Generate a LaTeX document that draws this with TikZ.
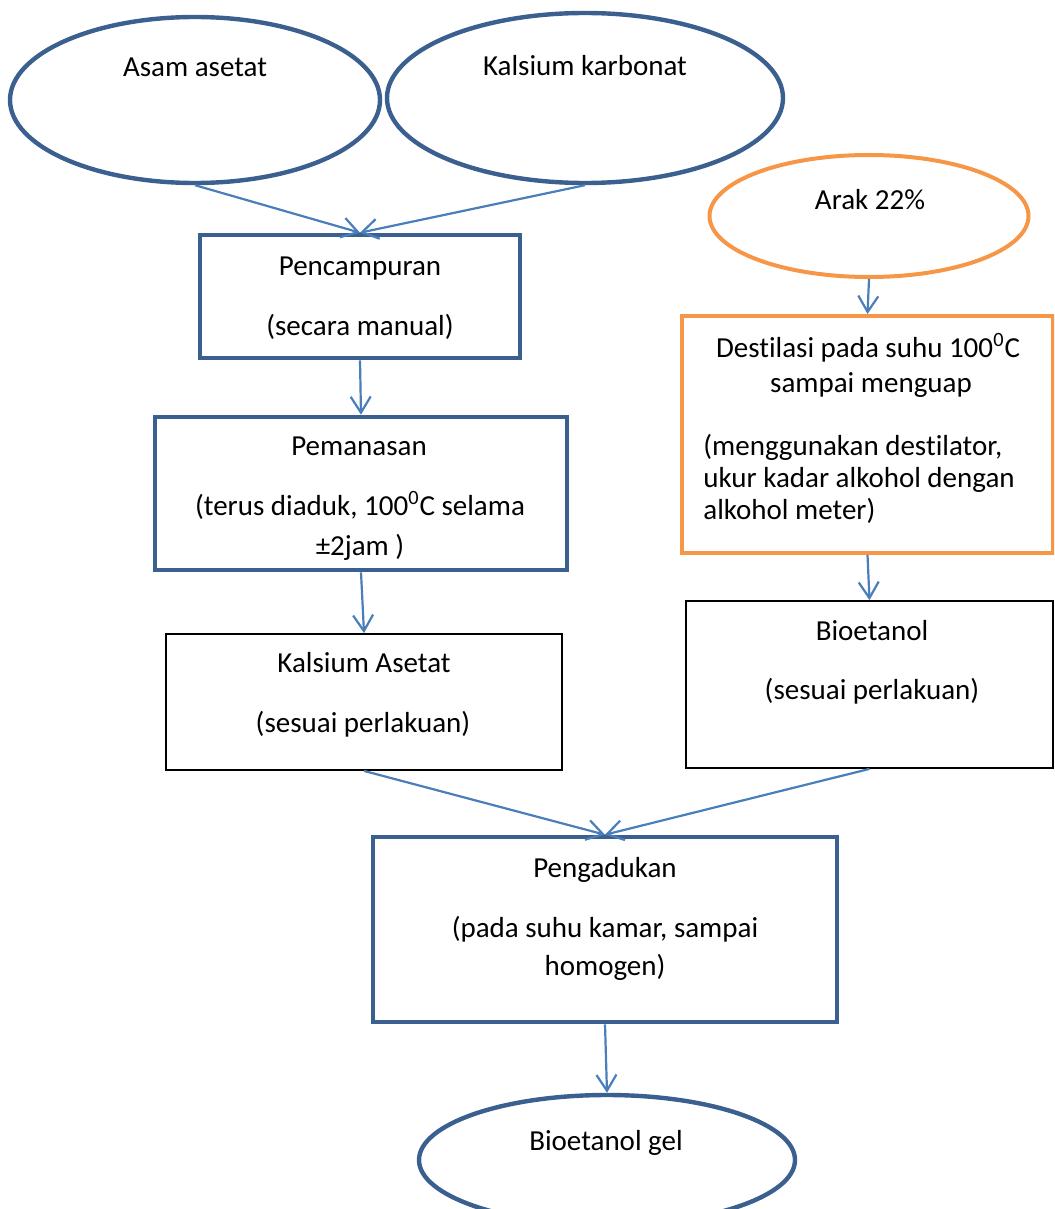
\documentclass[tikz,border=0pt]{standalone}
\usepackage{fontspec}
\setmainfont{Carlito}[RawFeature={-liga;-clig;-dlig}]
\usepackage{tikz}
\usetikzlibrary{shapes.geometric,arrows.meta}
\definecolor{shapeblue}{HTML}{3B5F8F}
\definecolor{linkblue}{HTML}{4A7EBB}
\definecolor{arakorange}{HTML}{F79646}
\tikzset{
  blueoval/.style={ellipse,draw=shapeblue,line width=2.2pt,inner sep=0pt},
  orangeoval/.style={ellipse,draw=arakorange,line width=2pt,inner sep=0pt},
  bluebox/.style={rectangle,draw=shapeblue,line width=2.3pt,inner sep=0pt},
  orangebox/.style={rectangle,draw=arakorange,line width=2pt,inner sep=0pt},
  plainbox/.style={rectangle,draw=black,line width=0.9pt,inner sep=0pt},
  txt/.style={font=\fontsize{14.5}{17}\selectfont,anchor=base,inner sep=0pt},
  txtleft/.style={txt,anchor=base west},
  link/.style={draw=linkblue,line width=1.1pt,-{Straight Barb[length=8pt,width=10pt]}},
}

\begin{document}
\begin{tikzpicture}[x=0.5pt,y=-0.5pt]
  \useasboundingbox (0,0) rectangle (1054,1209);
  \clip (0,0) rectangle (1054,1209);

  % bahan awal
  \node (asam) [blueoval,minimum width=185pt,minimum height=83pt] at (195,100) {};
  \node (karb) [blueoval,minimum width=198pt,minimum height=85pt] at (585,98) {};
  \node (arak) [orangeoval,minimum width=159.5pt,minimum height=61pt] at (869,216) {};

  % proses
  \node (campur) [bluebox,minimum width=160pt,minimum height=61.5pt] at (360,296.5) {};
  \node (panas) [bluebox,minimum width=206pt,minimum height=76.5pt] at (361,493.5) {};
  \node (kasetat) [plainbox,minimum width=198pt,minimum height=68pt] at (364,702) {};
  \node (destil) [orangebox,minimum width=185.5pt,minimum height=118.5pt] at (867.5,434.5) {};
  \node (bioet) [plainbox,minimum width=183.5pt,minimum height=83.5pt] at (869.5,684.5) {};
  \node (aduk) [bluebox,minimum width=232pt,minimum height=92.5pt] at (605,929.5) {};
  \node (gel) [blueoval,minimum width=188pt,minimum height=65pt] at (607,1160) {};

  % teks
  \node (asamT) [txt] at (195,77) {Asam asetat};
  \node (karbT) [txt] at (585,76) {Kalsium karbonat};
  \node (arakT) [txt] at (870,210) {Arak 22\%};
  \node (campurT) [txt] at (360,276) {Pencampuran};
  \node (campurK) [txt] at (360,335) {(secara manual)};
  \node (panasT) [txt] at (359,455) {Pemanasan};
  \node (panasK) [txt] at (360,515) {(terus diaduk, 100\textsuperscript{0}C selama};
  \node (panasJ) [txt] at (360,555) {±2jam )};
  \node (kasetatT) [txt] at (364,672) {Kalsium Asetat};
  \node (kasetatK) [txt] at (363,732) {(sesuai perlakuan)};
  \node (destilT) [txt] at (868,357) {Destilasi pada suhu 100\textsuperscript{0}C};
  \node (destilU) [txt] at (871,392) {sampai menguap};
  \node (destilK) [txtleft] at (703,455) {(menggunakan destilator,};
  \node (destilL) [txtleft] at (703,487) {ukur kadar alkohol dengan};
  \node (destilM) [txtleft] at (703,519) {alkohol meter)};
  \node (bioetT) [txt] at (872,640) {Bioetanol};
  \node (bioetK) [txt] at (872,699) {(sesuai perlakuan)};
  \node (adukT) [txt] at (605,877) {Pengadukan};
  \node (adukK) [txt] at (605,937) {(pada suhu kamar, sampai};
  \node (adukL) [txt] at (605,975) {homogen)};
  \node (gelT) [txt] at (606,1150) {Bioetanol gel};

  % panah
  \draw [link] (asam.south) -- (campur.north);
  \draw [link] (karb.south) -- (campur.north);
  \draw [link] (campur.south) -- (panas.north);
  \draw [link] (panas.south) -- (kasetat.north);
  \draw [link] (arak.south) -- (destil.north);
  \draw [link] (destil.south) -- (bioet.north);
  \draw [link] (kasetat.south) -- (aduk.north);
  \draw [link] (bioet.south) -- (aduk.north);
  \draw [link] (aduk.south) -- (gel.north);
\end{tikzpicture}
\end{document}
